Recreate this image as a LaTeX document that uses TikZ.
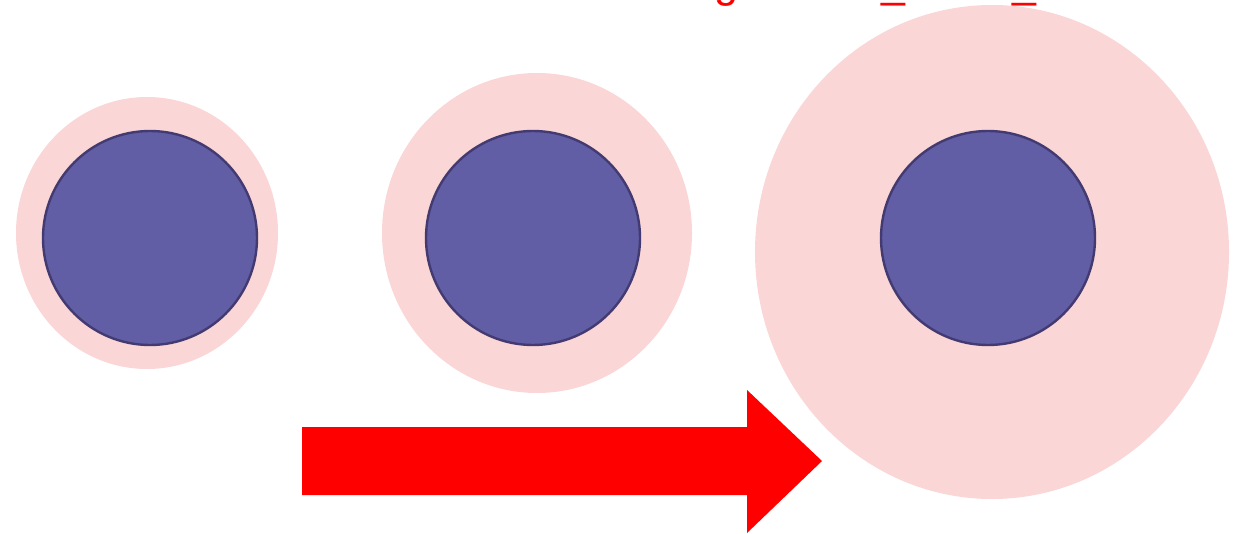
\documentclass[tikz,border=0pt]{standalone}
\usepackage{fontspec}
\setsansfont{Liberation Sans}
\definecolor{halo}{RGB}{250,214,214}
\definecolor{core}{RGB}{97,94,166}
\definecolor{coreline}{RGB}{66,58,112}
\definecolor{push}{RGB}{255,0,0}
\begin{document}
\begin{tikzpicture}[x=0.5pt, y=-0.5pt, thick]
    \useasboundingbox (0,0) rectangle (1245,534);
    \clip (0,0) rectangle (1245,534);
    \tikzset{corestyle/.style={fill=core, draw=coreline, line width=1.2pt}}

    \coordinate (C1) at (147,233);
    \coordinate (C2) at (537,233);
    \coordinate (C3) at (992,252);

    \fill[halo] (C1) ellipse (131 and 136);
    \fill[halo] (C2) ellipse (155 and 160);
    \fill[halo] (C3) ellipse (237 and 247);

    \draw[corestyle] (150,238) circle (107);
    \draw[corestyle] (533,238) circle (107);
    \draw[corestyle] (988,238) circle (107);

    \fill[push] (302,427) -- (747,427) -- (747,390) -- (822,461)
        -- (747,533) -- (747,495) -- (302,495) -- cycle;

    % clipped caption along the top edge
    \node[anchor=base west, inner sep=0pt, text=push, font=\sffamily\fontsize{21.5}{24}\selectfont] (cap1) at (714,-2) {g};
    \node[anchor=base west, inner sep=0pt, text=push, font=\sffamily\fontsize{21.5}{24}\selectfont] (cap2) at (881,-2) {\_};
    \node[anchor=base west, inner sep=0pt, text=push, font=\sffamily\fontsize{21.5}{24}\selectfont] (cap3) at (1012,-2) {\_};
\end{tikzpicture}
\end{document}
